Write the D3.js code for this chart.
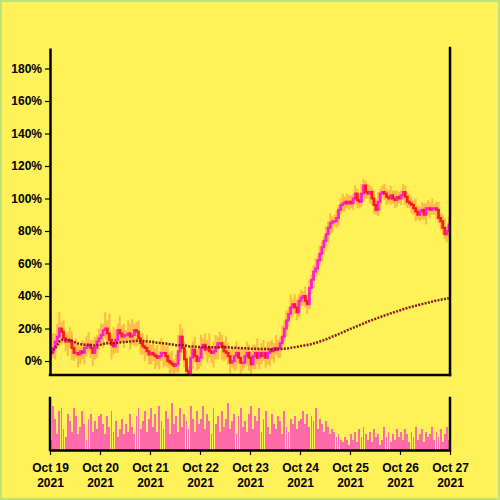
<!DOCTYPE html>
<html>
<head>
<meta charset="utf-8">
<script src="https://cdn.jsdelivr.net/npm/d3@7"></script>
<style>
  html, body { margin: 0; padding: 0; background: #fff259; }
  svg { display: block; }
</style>
</head>
<body>
<svg id="chart" width="500" height="500"></svg>
<script>
'use strict';

// hourly candles, Oct 19 2021 00:00 -> Oct 26 2021 23:00 (closes in %)
var closes = [
  5, 8, 12, 15, 20, 18, 14, 12, 13, 12, 8, 5, 5, 4, 6, 5, 8, 9, 10, 8, 5, 8, 12, 14,
  16, 19, 20, 17, 13, 10, 9, 13, 19, 17, 15, 16, 16, 17, 15, 16, 19, 18, 14, 11, 9, 8, 6, 4,
  5, 4, 3, 2, 3, 5, 5, 3, 0, -1, -2, -3, -2, 6, 15, 8, 1, -6, -12, 2, 7, 3, 0, 2,
  8, 10, 7, 8, 6, 5, 6, 8, 11, 11, 9, 6, 5, 3, -1, 0, 3, 5, 2, -1, -1, 3, 5, 2,
  -2, 3, 5, 2, 5, 3, 5, 2, 5, 7, 6, 8, 7, 8, 11, 15, 20, 25, 29, 33, 35, 33, 30, 37,
  39, 40, 37, 35, 45, 50, 55, 57, 62, 66, 70, 74, 78, 82, 85, 86, 86, 88, 93, 96, 97, 98, 97, 98,
  97, 100, 103, 99, 98, 103, 108, 104, 103, 104, 100, 96, 93, 98, 103, 104, 103, 101, 100, 102, 100, 99, 101, 100,
  102, 104, 101, 98, 97, 96, 94, 92, 90, 92, 93, 90, 94, 94, 93, 94, 94, 93, 88, 86, 82, 78, 80, 84
];

// wick reach above / below the body (percentage points)
var wickUp = [
  6, 9, 5, 8, 10, 4, 7, 3, 5, 8, 6, 4, 9, 5, 3, 7, 4, 6, 8, 3, 5, 7, 4, 6,
  7, 4, 10, 5, 12, 3, 11, 6, 4, 9, 5, 7, 3, 8, 6, 10, 4, 5, 7, 3, 6, 4, 8, 5,
  5, 8, 4, 7, 3, 9, 6, 4, 8, 5, 7, 3, 6, 10, 8, 5, 4, 6, 3, 7, 5, 8, 4, 6,
  8, 4, 7, 5, 9, 3, 6, 8, 4, 7, 5, 3, 9, 6, 4, 8, 5, 7, 3, 6, 9, 4, 7, 5,
  4, 7, 5, 9, 3, 6, 8, 4, 7, 5, 6, 3, 8, 5, 4, 7, 5, 6, 4, 8, 3, 6, 5, 4,
  5, 3, 6, 4, 5, 3, 4, 6, 3, 5, 4, 3, 5, 4, 6, 3, 4, 5, 3, 4, 6, 3, 5, 4,
  4, 3, 5, 3, 4, 6, 4, 3, 5, 4, 3, 5, 4, 6, 3, 4, 5, 3, 4, 6, 3, 5, 4, 3,
  3, 5, 4, 3, 5, 4, 3, 6, 4, 3, 5, 4, 3, 5, 4, 6, 3, 4, 5, 3, 4, 6, 3, 5
];
var wickDown = [
  5, 3, 7, 4, 6, 8, 3, 6, 9, 4, 7, 5, 3, 8, 6, 4, 7, 5, 3, 6, 8, 4, 6, 5,
  4, 8, 5, 7, 3, 9, 5, 4, 8, 6, 3, 7, 5, 4, 8, 5, 6, 9, 4, 7, 5, 8, 3, 6,
  6, 4, 8, 5, 7, 3, 9, 6, 4, 8, 5, 7, 4, 5, 6, 3, 5, 4, 3, 5, 7, 4, 6, 5,
  5, 7, 3, 8, 4, 6, 9, 5, 7, 3, 8, 6, 4, 5, 7, 3, 6, 8, 4, 7, 5, 3, 6, 8,
  6, 3, 8, 4, 7, 5, 3, 6, 4, 8, 5, 7, 3, 5, 6, 4, 3, 5, 4, 3, 6, 4, 5, 3,
  3, 5, 4, 6, 3, 4, 5, 3, 4, 3, 5, 4, 3, 5, 4, 6, 3, 4, 5, 3, 4, 5, 3, 4,
  3, 4, 3, 5, 4, 3, 5, 4, 3, 6, 4, 5, 3, 4, 5, 3, 4, 5, 3, 4, 3, 5, 4, 3,
  4, 3, 5, 4, 3, 5, 4, 6, 3, 4, 5, 3, 6, 4, 5, 3, 4, 6, 3, 5, 4, 3, 5, 4
];

// hourly volume (relative units)
var volumes = [
  20, 85, 60, 30, 75, 80, 40, 25, 70, 55, 35, 80, 65, 30, 45, 75, 50, 20, 60, 70, 35, 55, 40, 65,
  70, 50, 30, 65, 45, 75, 35, 55, 25, 40, 60, 30, 50, 35, 70, 45, 30, 65, 80, 40, 55, 75, 35, 60,
  80, 45, 70, 35, 85, 55, 40, 75, 60, 30, 90, 50, 65, 35, 80, 45, 70, 55, 40, 85, 60, 35, 75, 50,
  60, 85, 40, 70, 55, 30, 80, 50, 65, 35, 75, 45, 60, 90, 40, 55, 70, 30, 65, 80, 45, 55, 35, 70,
  85, 40, 65, 55, 80, 35, 60, 75, 45, 30, 70, 50, 40, 65, 55, 30, 75, 45, 35, 60, 50, 65, 40, 55,
  60, 75, 50, 70, 45, 65, 55, 80, 40, 60, 50, 35, 55, 45, 30, 40, 35, 25, 30, 20, 15, 25, 20, 10,
  30, 20, 35, 15, 40, 25, 45, 30, 20, 35, 15, 40, 25, 30, 10, 20, 45, 25, 35, 15, 30, 20, 40, 25,
  35, 20, 40, 30, 15, 35, 25, 45, 20, 30, 40, 15, 35, 25, 30, 45, 20, 35, 25, 40, 15, 30, 45, 20
];

var yTickValues = [0, 20, 40, 60, 80, 100, 120, 140, 160, 180];
var startDate = new Date(2021, 9, 19);
var endDate = new Date(2021, 9, 27);
var dayTicks = d3.timeDay.range(startDate, d3.timeDay.offset(endDate, 1));

var svg = d3.select('#chart');

svg.append('rect')
    .attr('x', 1).attr('y', 1)
    .attr('width', 498).attr('height', 498)
    .attr('fill', '#fff259')
    .attr('stroke', '#bde27c')
    .attr('stroke-width', 2);

var x = d3.scaleTime().domain([startDate, endDate]).range([50, 450]);
var y = d3.scaleLinear().domain([-8.6, 192.6]).range([375, 48]);
var yVol = d3.scaleLinear().domain([0, 100]).range([450, 398]);
var step = x(d3.timeHour.offset(startDate, 1)) - x(startDate);

var candles = closes.map(function(c, i) {
  var open = i === 0 ? c : closes[i - 1];
  return {
    date: d3.timeHour.offset(startDate, i),
    open: open,
    close: c,
    high: Math.max(open, c) + wickUp[i],
    low: Math.min(open, c) - wickDown[i],
    volume: volumes[i],
    mean: d3.mean(closes.slice(0, i + 1))
  };
});

function cx(d) { return x(d.date) + step / 2; }

svg.append('defs').append('clipPath')
    .attr('id', 'plotClip')
  .append('rect')
    .attr('x', 51).attr('y', 48)
    .attr('width', 398).attr('height', 326);

var plot = svg.append('g').attr('clip-path', 'url(#plotClip)');

// wicks
plot.selectAll('.wick')
    .data(candles).enter().append('line')
    .attr('class', 'wick')
    .attr('x1', cx).attr('x2', cx)
    .attr('y1', function(d) { return y(d.high); })
    .attr('y2', function(d) { return y(d.low); })
    .attr('stroke', '#ff9a3c')
    .attr('stroke-opacity', 0.65)
    .attr('stroke-width', 2);

// bodies
plot.selectAll('.body')
    .data(candles).enter().append('rect')
    .attr('class', 'body')
    .attr('x', function(d) { return cx(d) - 1.4; })
    .attr('width', 2.8)
    .attr('y', function(d) { return y(Math.max(d.open, d.close)) - 1; })
    .attr('height', function(d) { return Math.max(2.5, Math.abs(y(d.open) - y(d.close)) + 2); })
    .attr('fill', function(d) { return d.close >= d.open ? '#ff1fd0' : '#ff1a1a'; });

// running mean of closes
var meanLine = d3.line()
    .x(cx)
    .y(function(d) { return y(d.mean); });

plot.append('path')
    .datum(candles)
    .attr('d', meanLine)
    .attr('fill', 'none')
    .attr('stroke', '#8b1a1a')
    .attr('stroke-width', 2.5)
    .attr('stroke-dasharray', '2,1.3');

// main frame
var yAxis = d3.axisLeft(y)
    .tickValues(yTickValues)
    .tickFormat(function(d) { return d + '%'; })
    .tickSize(5)
    .tickSizeOuter(0);

var yAxisG = svg.append('g')
    .attr('transform', 'translate(50,0)')
    .call(yAxis);
yAxisG.select('.domain').attr('stroke-width', 2.5);
yAxisG.selectAll('.tick line').attr('stroke-width', 1.2);
yAxisG.selectAll('text')
    .attr('font-family', '"Liberation Sans", Arial, sans-serif')
    .attr('font-size', 12)
    .attr('font-weight', 'bold')
    .attr('fill', '#000');

function frameLine(x1, y1, x2, y2) {
  svg.append('line')
      .attr('x1', x1).attr('y1', y1)
      .attr('x2', x2).attr('y2', y2)
      .attr('stroke', '#000')
      .attr('stroke-width', 2.5)
      .attr('stroke-linecap', 'square');
}
frameLine(50, 375, 450, 375);
frameLine(450, 48, 450, 375);

// volume panel
svg.append('g').selectAll('.vol')
    .data(candles).enter().append('rect')
    .attr('class', 'vol')
    .attr('x', function(d) { return cx(d) - 0.9; })
    .attr('width', 1.8)
    .attr('y', function(d) { return yVol(d.volume); })
    .attr('height', function(d) { return yVol(0) - yVol(d.volume); })
    .attr('fill', '#ff6aa8')
    .attr('shape-rendering', 'crispEdges');

frameLine(50, 398, 50, 450);
frameLine(450, 398, 450, 450);

var xAxis = d3.axisBottom(x)
    .tickValues(dayTicks)
    .tickSize(5)
    .tickSizeOuter(0)
    .tickFormat('');

var xAxisG = svg.append('g')
    .attr('transform', 'translate(0,450)')
    .call(xAxis);
xAxisG.select('.domain').attr('stroke-width', 2.5);
xAxisG.selectAll('.tick line').attr('stroke-width', 1.2);

var fmtDay = d3.timeFormat('%b %d');
var fmtYear = d3.timeFormat('%Y');
var tickText = xAxisG.selectAll('.tick').append('text')
    .attr('fill', '#000')
    .attr('font-family', '"Liberation Sans", Arial, sans-serif')
    .attr('font-size', 12)
    .attr('font-weight', 'bold')
    .attr('text-anchor', 'middle');
tickText.append('tspan').attr('x', 0).attr('y', 22).text(function(d) { return fmtDay(d); });
tickText.append('tspan').attr('x', 0).attr('y', 37).text(function(d) { return fmtYear(d); });
</script>
</body>
</html>
